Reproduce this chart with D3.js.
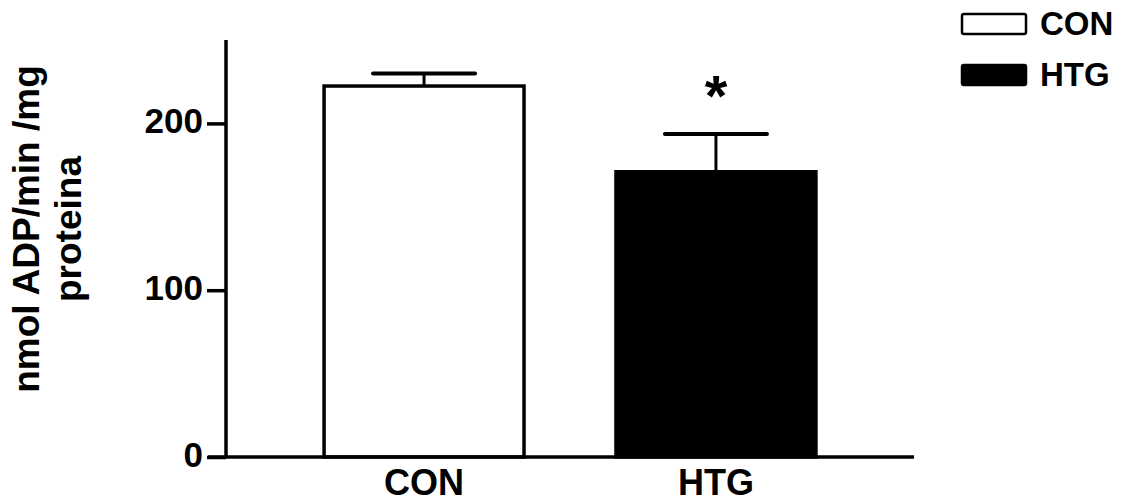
<!DOCTYPE html>
<html>
<head>
<meta charset="utf-8">
<script src="https://cdn.jsdelivr.net/npm/d3@7"></script>
<style>
  body { margin: 0; background: #fff; }
  text { font-family: "Liberation Sans", Arial, sans-serif; font-weight: bold; fill: #000; }
</style>
</head>
<body>
<svg width="1131" height="503"></svg>
<script>
// groups and values
var groups = ['CON', 'HTG'];
var means = [222.4, 171];
var errs = [7.5, 22.7];
var fills = ['#fff', '#000'];
var yTicks = [0, 100, 200];
var starred = ['HTG'];

var svg = d3.select('svg');

var x = d3.scaleBand()
  .domain(groups)
  .range([226, 914])
  .paddingInner(0.315)
  .paddingOuter(0.336);

var y = d3.scaleLinear()
  .domain([0, 250])
  .range([457, 40]);

// bars
svg.selectAll('rect.bar')
  .data(groups)
  .enter().append('rect')
  .attr('class', 'bar')
  .attr('x', function(d){ return x(d); })
  .attr('width', x.bandwidth())
  .attr('y', function(d, i){ return y(means[i]); })
  .attr('height', function(d, i){ return y(0) - y(means[i]); })
  .attr('fill', function(d, i){ return fills[i]; })
  .attr('stroke', '#000')
  .attr('stroke-width', 3.5);

// error bars (upper only)
var eb = svg.selectAll('g.err')
  .data(groups)
  .enter().append('g')
  .attr('class', 'err');

eb.append('line')
  .attr('x1', function(d){ return x(d) + x.bandwidth()/2; })
  .attr('x2', function(d){ return x(d) + x.bandwidth()/2; })
  .attr('y1', function(d, i){ return y(means[i]); })
  .attr('y2', function(d, i){ return y(means[i] + errs[i]); })
  .attr('stroke', '#000')
  .attr('stroke-width', 3);

eb.append('line')
  .attr('x1', function(d){ return x(d) + x.bandwidth()/2 - 51; })
  .attr('x2', function(d){ return x(d) + x.bandwidth()/2 + 51; })
  .attr('y1', function(d, i){ return y(means[i] + errs[i]); })
  .attr('y2', function(d, i){ return y(means[i] + errs[i]); })
  .attr('stroke', '#000')
  .attr('stroke-width', 4)
  .attr('stroke-linecap', 'round');

// significance star
svg.selectAll('text.star')
  .data(starred)
  .enter().append('text')
  .attr('class', 'star')
  .attr('x', function(d){ return x(d) + x.bandwidth()/2; })
  .attr('y', function(d){ var i = groups.indexOf(d); return y(means[i] + errs[i]) - 18; })
  .attr('text-anchor', 'middle')
  .style('font-size', '58px')
  .text('*');

// y axis
var yAxis = d3.axisLeft(y).tickValues(yTicks).tickSize(19).tickPadding(4).tickFormat(d3.format('d'));
var gy = svg.append('g')
  .attr('transform', 'translate(226,0)')
  .call(yAxis);
gy.select('.domain').attr('stroke-width', 3.5).attr('d', 'M0,' + y(250) + 'V' + y(0));
gy.selectAll('.tick line').attr('stroke-width', 3.5);
gy.selectAll('.tick text')
  .style('font-size', '35px')
  .style('font-family', '"Liberation Sans", Arial, sans-serif')
  .style('font-weight', 'bold')
  .attr('dy', '0.26em');

// x axis
svg.append('line')
  .attr('x1', 208).attr('x2', 914)
  .attr('y1', y(0)).attr('y2', y(0))
  .attr('stroke', '#000').attr('stroke-width', 3.5);

svg.selectAll('text.xlab')
  .data(groups)
  .enter().append('text')
  .attr('class', 'xlab')
  .attr('x', function(d){ return x(d) + x.bandwidth()/2; })
  .attr('y', 495)
  .attr('text-anchor', 'middle')
  .style('font-size', '36px')
  .text(function(d){ return d; });

// y label
var yl = svg.append('text')
  .attr('transform', 'translate(0,229) rotate(-90)')
  .attr('text-anchor', 'middle')
  .style('font-size', '37px');
yl.append('tspan').attr('x', 0).attr('y', 39).text('nmol ADP/min /mg');
yl.append('tspan').attr('x', 0).attr('y', 81).text('proteina');

// legend
var lg = svg.selectAll('g.leg')
  .data(groups)
  .enter().append('g')
  .attr('class', 'leg')
  .attr('transform', function(d, i){ return 'translate(962,' + (14 + i * 51) + ')'; });
lg.append('rect')
  .attr('width', 64).attr('height', 20)
  .attr('rx', 2)
  .attr('fill', function(d, i){ return fills[i]; })
  .attr('stroke', '#000').attr('stroke-width', 2.5);
lg.append('text')
  .attr('x', 78).attr('y', 21)
  .style('font-size', '33px')
  .text(function(d){ return d; });
</script>
</body>
</html>
